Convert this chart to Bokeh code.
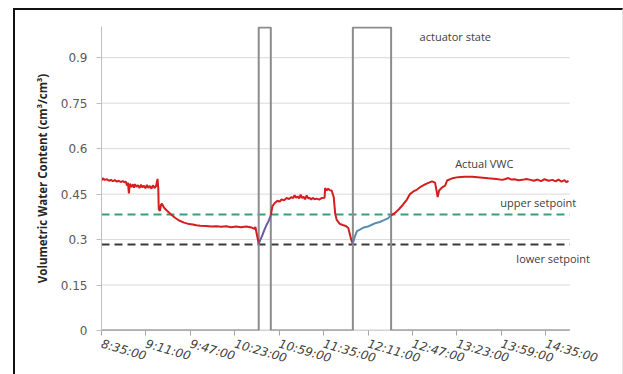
from bokeh.plotting import figure
from bokeh.models import Label, FixedTicker, CustomJSTickFormatter, Range1d
from bokeh.embed import file_html
from bokeh.resources import INLINE

# ---- data (time in minutes since midnight) ----
x_tick_times = [515, 551, 587, 623, 659, 695, 731, 767, 803, 839, 875]
x_tick_labels = ["8:35:00", "9:11:00", "9:47:00", "10:23:00", "10:59:00", "11:35:00",
                 "12:11:00", "12:47:00", "13:23:00", "13:59:00", "14:35:00"]
y_ticks = [0, 0.15, 0.3, 0.45, 0.6, 0.75, 0.9]
t_start, t_end = 515, 894.5

upper_setpoint = 0.383
lower_setpoint = 0.284

actuator_time = [515, 642.4, 652.2, 718.7, 749.7, 894.5]
actuator_state = [0, 1, 0, 1, 0, 0]

# VWC before first irrigation (red)
vwc_a_t = [515, 516, 517.5, 519.4, 521, 522.6, 524.2, 525.8, 527.4, 529, 530.6, 532.3, 533.5,
           534.8, 535.6, 536.4, 537.2, 538, 539.2, 540.5, 541.3, 542.1, 543.3, 544.5, 545.8,
           547, 548.2, 549.4, 550.6, 551.8, 553, 554.3, 555.5, 556.7, 558, 559.2, 560.4, 561,
           561.4, 562.4, 563.2, 564, 565.7, 568.1, 571.4, 574.6, 577.9, 581.9, 586, 589,
           591.7, 595, 599.8, 604, 608, 612, 616.1, 620, 624.2, 628, 632.4, 636.4, 638.9,
           639.7, 640.5, 642.4]
vwc_a_v = [0.495, 0.502, 0.497, 0.499, 0.494, 0.497, 0.493, 0.496, 0.491, 0.494, 0.490, 0.493,
           0.489, 0.491, 0.478, 0.488, 0.452, 0.484, 0.474, 0.482, 0.471, 0.483, 0.474, 0.479,
           0.470, 0.481, 0.472, 0.478, 0.469, 0.480, 0.471, 0.477, 0.468, 0.479, 0.470, 0.476,
           0.500, 0.470, 0.400, 0.395, 0.415, 0.418, 0.405, 0.395, 0.383, 0.372, 0.363, 0.356,
           0.351, 0.350, 0.347, 0.346, 0.345, 0.343, 0.344, 0.342, 0.344, 0.341, 0.343, 0.341,
           0.343, 0.340, 0.335, 0.342, 0.325, 0.286]
# VWC during first irrigation
vwc_b_t = [642.4, 643.8, 645.4, 647, 648.7, 650.3, 652.2]
vwc_b_v = [0.286, 0.300, 0.315, 0.332, 0.348, 0.360, 0.380]
# VWC between irrigations (red)
vwc_c_t = [652.2, 653.5, 655.2, 657.6, 659.2, 660.9, 663, 665, 667, 669, 670.3, 671.5, 672.7,
           673.9, 675.2, 676.4, 677.6, 678.8, 680, 681.3, 682.5, 683.7, 685, 686.1, 687.7,
           689.4, 691.4, 693.4, 695.8, 696.2, 697.5, 698.7, 699.9, 701.5, 703.2, 704.4,
           705.6, 708.1, 710.5, 713, 715, 716.2, 717.5, 718.7]
vwc_c_v = [0.380, 0.410, 0.420, 0.428, 0.425, 0.432, 0.430, 0.437, 0.434, 0.440, 0.437, 0.446,
           0.438, 0.442, 0.436, 0.448, 0.437, 0.441, 0.433, 0.446, 0.436, 0.437, 0.432, 0.438,
           0.433, 0.435, 0.432, 0.437, 0.438, 0.470, 0.462, 0.468, 0.463, 0.462, 0.440, 0.385,
           0.365, 0.352, 0.348, 0.345, 0.338, 0.318, 0.298, 0.286]
# VWC during second irrigation
vwc_d_t = [718.7, 720.3, 722, 724.4, 727.6, 730.9, 734.1, 737.4, 740.6, 743.9, 747.1, 749.7]
vwc_d_v = [0.286, 0.310, 0.328, 0.333, 0.340, 0.343, 0.349, 0.355, 0.358, 0.364, 0.370, 0.380]
# VWC after second irrigation (red)
vwc_e_t = [749.7, 752.8, 756, 759.3, 762.5, 765, 767.4, 770.7, 773.9, 777.2, 780.4, 782.9,
           785.3, 786.5, 787.4, 788.6, 791, 793.5, 795.1, 799.2, 804.1, 809, 815.4, 821.9,
           828.4, 834.9, 839.8, 842.3, 844.7, 847.2, 849.6, 852.8, 856.1, 859.4, 862.6, 865.5,
           868.3, 871.2, 874, 877.3, 880.5, 883, 885.3, 887.8, 890.2, 891.8, 893.4]
vwc_e_v = [0.380, 0.388, 0.400, 0.415, 0.432, 0.450, 0.458, 0.465, 0.475, 0.482, 0.488, 0.492,
           0.488, 0.462, 0.440, 0.462, 0.472, 0.478, 0.495, 0.502, 0.506, 0.507, 0.507, 0.505,
           0.502, 0.500, 0.497, 0.500, 0.503, 0.498, 0.499, 0.496, 0.497, 0.500, 0.497, 0.494,
           0.498, 0.493, 0.499, 0.494, 0.497, 0.492, 0.498, 0.491, 0.496, 0.489, 0.494]

# ---- figure ----
p = figure(width=610, height=366, output_backend="svg", toolbar_location=None,
           x_range=Range1d(515, 921), y_range=Range1d(0, 1.003),
           min_border_left=86, min_border_right=23, min_border_top=16, min_border_bottom=46)
p.margin = (8, 0, 0, 13)
p.styles = {"border-top": "2px solid #111111", "border-left": "2px solid #111111",
            "border-right": "1px solid #e6e6e6"}
p.outline_line_color = None
p.background_fill_color = "white"
p.border_fill_color = "white"

p.xgrid.visible = False
p.ygrid.visible = False

# horizontal gridlines that stop at the end of the time axis
grid_y = y_ticks[1:]
p.segment(x0=[t_start] * len(grid_y), x1=[t_end] * len(grid_y), y0=grid_y, y1=grid_y,
          line_color="#d9d9d9", line_width=1)

# y axis
p.yaxis.ticker = FixedTicker(ticks=y_ticks)
p.yaxis.formatter = CustomJSTickFormatter(code="return String(Math.round(tick*100)/100);")
p.yaxis.axis_line_color = "#bfbfbf"
p.yaxis.major_tick_line_color = "#bfbfbf"
p.yaxis.major_tick_out = 5
p.yaxis.major_tick_in = 0
p.yaxis.minor_tick_line_color = None
p.yaxis.major_label_text_font = "DejaVu Sans"
p.yaxis.major_label_text_font_size = "12px"
p.yaxis.major_label_text_color = "#595959"
p.yaxis.major_label_standoff = 9
p.yaxis.axis_label = "Volumetric Water Content (cm³/cm³)"
p.yaxis.axis_label_text_font = "Open Sans"
p.yaxis.axis_label_text_font_style = "bold"
p.yaxis.axis_label_text_font_size = "11.5px"
p.yaxis.axis_label_text_color = "#262626"
p.yaxis.axis_label_standoff = 8

# x axis (line drawn as a segment so that it stops at the last time)
p.xaxis.ticker = FixedTicker(ticks=x_tick_times)
p.xaxis.formatter = CustomJSTickFormatter(
    args=dict(t=x_tick_times, l=x_tick_labels),
    code="const i = t.indexOf(tick); return i >= 0 ? l[i] : '';")
p.xaxis.axis_line_color = None
p.xaxis.major_tick_line_color = "#a6a6a6"
p.xaxis.major_tick_out = 5
p.xaxis.major_tick_in = 0
p.xaxis.minor_tick_line_color = None
p.xaxis.major_label_orientation = -0.28
p.xaxis.major_label_text_font = "DejaVu Sans"
p.xaxis.major_label_text_font_style = "italic"
p.xaxis.major_label_text_font_size = "12px"
p.xaxis.major_label_text_color = "#404040"
p.xaxis.major_label_standoff = 8
p.segment(x0=[t_start], x1=[t_end], y0=[0], y1=[0], line_color="#a6a6a6", line_width=1.5)

# setpoints
p.line([t_start, t_end], [upper_setpoint, upper_setpoint], line_color="#3a9e78",
       line_dash="8 5", line_width=2)
p.line([t_start, t_end], [lower_setpoint, lower_setpoint], line_color="#3a3a3a",
       line_dash="8 5", line_width=2)

# actuator state
p.step(actuator_time, actuator_state, mode="after", line_color="#8c8c8c", line_width=2)

# VWC
red = "#d21f1f"
p.line(vwc_a_t, vwc_a_v, line_color=red, line_width=2)
p.line(vwc_b_t, vwc_b_v, line_color="#6a5c9c", line_width=2)
p.line(vwc_c_t, vwc_c_v, line_color=red, line_width=2)
p.line(vwc_d_t, vwc_d_v, line_color="#5a8db3", line_width=2)
p.line(vwc_e_t, vwc_e_v, line_color=red, line_width=2)

# annotations
def lab(x, y, text):
    p.add_layout(Label(x=x, y=y, text=text, text_font="Open Sans", text_font_size="11px",
                       text_color="#404040", text_baseline="middle", text_align="left"))

lab(772.8, 0.969, "actuator state")
lab(801.6, 0.550, "Actual VWC")
lab(838.2, 0.422, "upper setpoint")
lab(851.2, 0.237, "lower setpoint")

open("out.html", "w").write(file_html(p, INLINE))
